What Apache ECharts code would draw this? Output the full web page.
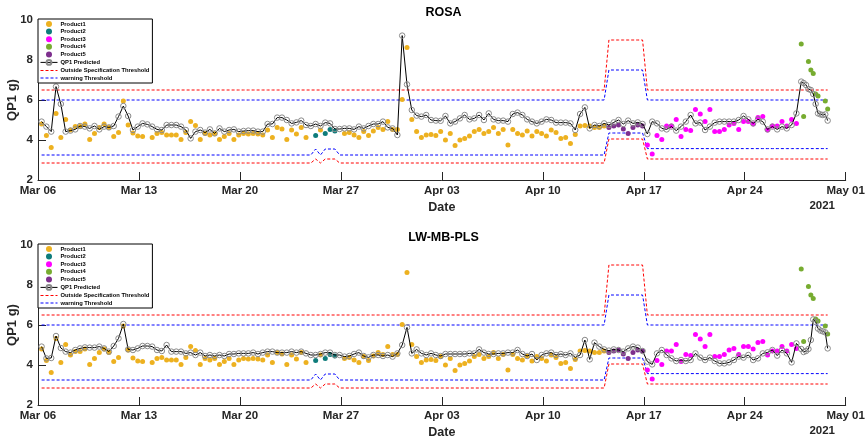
<!DOCTYPE html>
<html>
<head>
<meta charset="utf-8">
<script src="https://cdn.jsdelivr.net/npm/echarts@6/dist/echarts.min.js"></script>
<style>
  html, body { margin: 0; padding: 0; background: #fff; }
  #chart { width: 865px; height: 438px; }
</style>
</head>
<body>
<div id="chart"></div>
<script>
const HOUR = 3600000;
const DAY = 24 * HOUR;
const WEEK = 7 * DAY;

// QC sampling schedule: 8-hourly, then 4-hourly for the last campaign
const samplingPlan = [
  { start: '2021-03-06T06:00:00Z', everyHours: 8, count: 158 },
  { start: '2021-04-27T22:00:00Z', everyHours: 4, count: 12 }
];

// which product was running, as [product, number of samples]
const productRuns = [
  ['Product1', 57], ['Product2', 1], ['Product1', 1], ['Product2', 3],
  ['Product1', 56], ['Product5', 8], ['Product3', 32], ['Product4', 12]
];

const productNames  = ['Product1', 'Product2', 'Product3', 'Product4', 'Product5'];
const productColors = ['#EDB120', '#0E7C7B', '#FF00FF', '#77AC30', '#7E2F8E'];

// specification limits per product (same order as productNames)
const outsideLow  = [2.85, 3.05, 3.05, 3.05, 4.05];
const warningLow  = [3.25, 3.55, 3.57, 3.57, 4.35];
const warningHigh = [6.0, 6.0, 6.0, 6.0, 7.5];
const outsideHigh = [6.5, 6.5, 6.5, 6.5, 9.0];

// lab reference QP1 (g), one per sample
const labQP1 = [
  4.8, 4.22, 3.63, 5.33, 4.12, 5.03, 4.5, 4.67, 4.67, 4.8,
  4.03, 4.33, 4.63, 4.8, 4.63, 4.17, 4.37, 5.95, 4.75, 4.35,
  4.2, 4.17, null, 4.13, 4.33, 4.37, 4.25, 4.25, 4.25, 4.03,
  4.37, 4.92, 4.72, 4.03, 4.33, 4.25, 4.33, 4.03, 4.17, 4.33,
  4.03, 4.25, 4.33, 4.3, 4.33, 4.3, 4.25, 4.5, 4.13, 4.63,
  4.55, 4.03, 4.5, 4.3, 4.62, 4.13, null, 4.22, 4.5, 4.33,
  4.53, 4.45, null, 4.33, 4.37, 4.25, 4.13, 4.42, 4.22, 4.45,
  4.62, 4.53, 4.92, 4.53, 4.53, 6.03, 8.62, 5.03, 4.42, 4.13,
  4.25, 4.28, 4.22, 4.42, 4.0, 4.33, 3.72, 4.0, 4.08, 4.2,
  4.42, 4.53, 4.33, 4.42, 4.63, 4.33, 4.53, 3.75, 4.53, 4.33,
  4.25, 4.45, 4.2, 4.42, 4.33, 4.2, 4.5, 4.37, 4.08, 4.12,
  3.83, 4.28, 4.7, 4.72, 4.7, 4.63, 4.63, 4.7, 4.63, 4.7,
  4.75, 4.55, 4.33, 4.63, 4.75, 4.7, 3.75, 3.3, 4.22, 4.03,
  4.7, 4.7, 5.03, 4.17, 4.53, 4.47, 5.53, 5.3, 4.92, 5.53,
  4.42, 4.42, 4.53, 4.75, 4.83, 4.53, 4.92, 4.92, 4.8, 5.13,
  5.17, 4.5, 4.7, 4.7, 4.92, 4.7, 5.03, 4.83, 8.8, 5.17,
  null, 7.92, 7.5, 7.33, 6.3, 6.2, null, null, 5.95, 5.55
];

// ROSA predictions
const rosaQP1 = [
  4.92, 4.67, 4.42, 6.67, 5.8, 4.42, 4.47, 4.53, 4.7, 4.67,
  4.58, 4.7, 4.53, 4.67, 4.63, 4.7, 5.17, 5.7, 5.2, 4.5,
  4.67, 4.83, 4.78, 4.67, 4.53, 4.5, 4.75, 4.75, 4.75, 4.67,
  4.5, 4.08, 4.42, 4.5, 4.37, 4.53, 4.33, 4.58, 4.42, 4.5,
  4.53, 4.42, 4.45, 4.47, 4.47, 4.42, 4.42, 4.8, 4.8, 5.12,
  5.12, 5.0, 4.83, 4.88, 4.97, 4.75, 4.7, 4.8, 4.7, 4.87,
  4.83, 4.55, 4.55, 4.58, 4.58, 4.53, 4.67, 4.58, 4.7, 4.8,
  4.8, 4.92, 4.63, 4.58, 4.25, 9.22, 6.78, 5.5, 5.22, 5.17,
  5.25, 5.0, 4.97, 4.96, 5.2, 4.83, 4.92, 5.08, 5.25, 5.03,
  5.08, 5.25, 5.0, 5.33, 5.03, 4.97, 4.97, 4.92, 5.3, 5.37,
  5.25, 5.03, 4.92, 4.83, 4.92, 5.03, 5.0, 4.87, 4.87, 4.87,
  4.83, 4.5, 5.3, 5.63, 4.58, 4.75, 4.7, 4.83, 4.75, 4.88,
  5.0, 4.8, 4.97, 4.83, 4.88, 4.8, 4.3, 4.92, 4.83, 4.58,
  4.53, 4.67, 4.47, 4.67, 4.92, 5.25, 4.83, 4.87, 4.5, 4.67,
  4.87, 4.92, 4.92, 4.92, 4.92, 5.0, 5.2, 5.03, 4.83, 5.03,
  4.92, 4.53, 4.67, 4.53, 4.67, 4.58, 4.75, 5.33, 6.92, 6.85,
  6.75, 6.55, 6.5, 6.3, 5.8, 5.33, 5.28, 5.25, 5.28, 4.97
];

// LW-MB-PLS predictions
const lwmbplsQP1 = [
  4.92, 4.33, 4.35, 5.45, 4.85, 4.67, 4.62, 4.75, 4.83, 4.88,
  4.87, 4.87, 4.92, 4.83, 4.67, 4.95, 5.33, 6.05, 4.78, 4.75,
  4.83, 4.95, 4.95, 4.92, 4.75, 4.7, 5.0, 4.67, 4.67, 4.67,
  4.58, 4.62, 4.5, 4.62, 4.45, 4.5, 4.45, 4.5, 4.45, 4.55,
  4.55, 4.58, 4.58, 4.58, 4.62, 4.55, 4.62, 4.67, 4.67, 4.62,
  4.62, 4.62, 4.67, 4.62, 4.67, 4.58, 4.5, 4.5, 4.55, 4.62,
  4.62, 4.5, 4.5, 4.42, 4.45, 4.55, 4.62, 4.45, 4.38, 4.5,
  4.5, 4.45, 4.5, 4.42, 4.58, 5.0, 5.88, 4.58, 4.78, 4.58,
  4.5, 4.58, 4.5, 4.45, 4.55, 4.55, 4.55, 4.55, 4.55, 4.58,
  4.58, 4.78, 4.62, 4.55, 4.55, 4.58, 4.58, 4.62, 4.62, 4.75,
  4.55, 4.45, 4.55, 4.25, 4.5, 4.58, 4.62, 4.5, 4.55, 4.5,
  4.58, 4.38, 4.5, 5.25, 4.28, 5.12, 4.92, 4.78, 4.72, 4.78,
  4.75, 4.67, 4.83, 4.92, 4.87, 4.7, 4.17, 4.03, 4.58, 4.75,
  4.5, 4.33, 4.2, 4.25, 4.2, 4.25, 4.58, 4.37, 4.25, 4.37,
  4.2, 4.08, 4.08, 4.13, 4.25, 4.42, 4.37, 4.5, 4.25, 4.33,
  4.58, 4.63, 4.75, 4.47, 4.75, 4.58, 4.13, 5.08, 4.8, 4.65,
  4.7, 4.8, 5.25, 6.28, 6.15, 5.82, 5.72, 5.68, 5.63, 4.83
];

const panelTitles = ['ROSA', 'LW-MB-PLS'];
const panelPredictions = [rosaQP1, lwmbplsQP1];

const dateTickLabels = ['Mar 06', 'Mar 13', 'Mar 20', 'Mar 27', 'Apr 03', 'Apr 10', 'Apr 17', 'Apr 24', 'May 01'];
const yearLabel = '2021';
const xStart = Date.UTC(2021, 2, 6);
const xEnd = Date.UTC(2021, 4, 1);

// ---- derived sample table ----
const sampleTimes = [];
samplingPlan.forEach(p => {
  const t0 = Date.parse(p.start);
  for (let k = 0; k < p.count; k++) sampleTimes.push(t0 + k * p.everyHours * HOUR);
});
const sampleProduct = [];
productRuns.forEach(([name, n]) => { for (let k = 0; k < n; k++) sampleProduct.push(productNames.indexOf(name)); });

const FONT = 'Liberation Sans, Arial, Helvetica, sans-serif';
const INK = '#262626';

// dashed legend swatch for the threshold lines
const DASH_ICON = 'path://M0,0h3v1h-3zM5,0h3v1h-3zM10,0h3v1h-3zM15,0h2v1h-2z';

const gridTops = [20, 245];
const legendItems = productNames.map(n => ({ name: n }))
  .concat([
    { name: 'QP1 Predicted' },
    { name: 'Outside Specification Threshold', icon: DASH_ICON },
    { name: 'warning Threshold', icon: DASH_ICON }
  ]);

const grids = [], xAxes = [], yAxes = [], titles = [], legends = [], graphics = [], series = [];

gridTops.forEach((top, g) => {
  grids.push({ left: 38, right: 19.3, top: top, height: 160, containLabel: false, outerBoundsMode: 'none' });

  xAxes.push({
    type: 'value', gridIndex: g, min: xStart, max: xEnd, interval: WEEK,
    name: 'Date', nameLocation: 'middle', nameGap: 21, nameMoveOverlap: false,
    nameTextStyle: { fontFamily: FONT, fontWeight: 'bold', fontSize: 12.5, color: INK },
    axisLine: { show: true, lineStyle: { color: INK, width: 1 } },
    axisTick: { show: true, inside: true, length: 8, lineStyle: { color: INK, width: 1 } },
    axisLabel: {
      margin: 5, fontFamily: FONT, fontWeight: 'bold', fontSize: 11.5, color: INK,
      formatter: v => dateTickLabels[Math.round((v - xStart) / WEEK)] || ''
    },
    splitLine: { show: false }
  });

  yAxes.push({
    type: 'value', gridIndex: g, min: 2, max: 10, interval: 2,
    name: 'QP1 g)', nameLocation: 'middle', nameGap: 19, nameMoveOverlap: false,
    nameTextStyle: { fontFamily: FONT, fontWeight: 'bold', fontSize: 13, color: INK },
    axisLine: { show: true, lineStyle: { color: INK, width: 1 } },
    axisTick: { show: true, inside: true, length: 8, lineStyle: { color: INK, width: 1 } },
    axisLabel: { margin: 5, fontFamily: FONT, fontWeight: 'bold', fontSize: 11.5, color: INK },
    splitLine: { show: false }
  });

  titles.push({
    text: panelTitles[g], left: 441.5, top: top - 16, textAlign: 'center', padding: 2,
    textStyle: { fontFamily: FONT, fontWeight: 'bold', fontSize: 12.5, color: '#000' }
  });

  legends.push({
    data: legendItems, orient: 'vertical', left: 38, top: top - 1,
    itemWidth: 17, itemHeight: 6, itemGap: 1.6, padding: [2, 3, 2, 2],
    backgroundColor: '#fff', borderColor: '#000', borderWidth: 1,
    selectedMode: false, z: 10,
    lineStyle: { width: 1 },
    textStyle: { fontFamily: FONT, fontWeight: 'bold', fontSize: 5.8, color: '#000', padding: [0, 0, 0, -2] }
  });

  graphics.push({
    type: 'text', right: 30, top: top + 180,
    style: { text: yearLabel, font: 'bold 11.5px ' + FONT, fill: INK }
  });

  // lab measurements, coloured by product
  productNames.forEach((name, p) => {
    const pts = [];
    sampleTimes.forEach((t, i) => {
      if (sampleProduct[i] === p && labQP1[i] != null) pts.push([t, labQP1[i]]);
    });
    series.push({
      type: 'scatter', name: name, xAxisIndex: g, yAxisIndex: g,
      symbol: 'circle', symbolSize: 5, z: 2,
      itemStyle: { color: productColors[p], opacity: 1 },
      data: pts
    });
  });

  // model prediction
  const pred = panelPredictions[g];
  series.push({
    type: 'line', name: 'QP1 Predicted', xAxisIndex: g, yAxisIndex: g,
    data: sampleTimes.map((t, i) => [t, pred[i]]),
    symbol: 'circle', symbolSize: 5.5, showSymbol: true, z: 3,
    lineStyle: { color: '#000', width: 1 },
    itemStyle: { color: 'rgba(255,255,255,0)', borderColor: '#8a8a8a', borderWidth: 1 }
  });

  // specification / warning thresholds follow the running product
  const limitSets = [
    ['Outside Specification Threshold', outsideHigh, '#FF0000'],
    ['Outside Specification Threshold', outsideLow, '#FF0000'],
    ['warning Threshold', warningHigh, '#0000FF'],
    ['warning Threshold', warningLow, '#0000FF']
  ];
  limitSets.forEach(([name, limits, color]) => {
    series.push({
      type: 'line', name: name, xAxisIndex: g, yAxisIndex: g,
      data: sampleTimes.map((t, i) => [t, limits[sampleProduct[i]]]),
      symbol: 'none', z: 2,
      lineStyle: { color: color, width: 1, type: [3, 2] },
      itemStyle: { color: color }
    });
  });
});

const chart = echarts.init(document.getElementById('chart'), null, { renderer: 'canvas' });
chart.setOption({
  animation: false,
  backgroundColor: '#fff',
  textStyle: { fontFamily: FONT },
  title: titles,
  legend: legends,
  grid: grids,
  xAxis: xAxes,
  yAxis: yAxes,
  graphic: graphics,
  series: series
});
</script>
</body>
</html>
